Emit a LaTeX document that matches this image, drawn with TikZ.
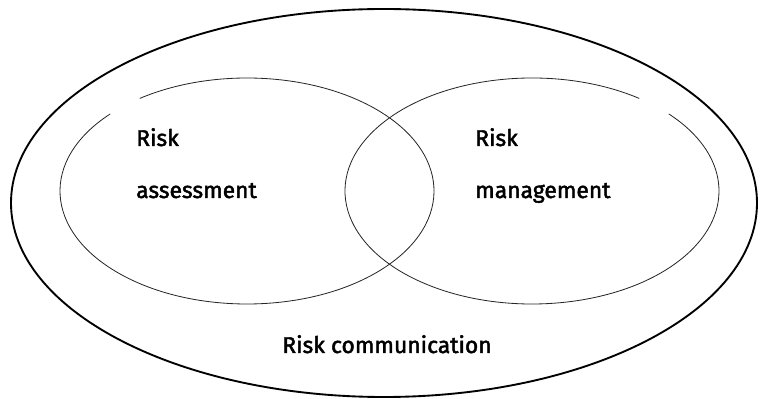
\documentclass[tikz,border=0pt]{standalone}
\usepackage{fontspec}
\setmainfont{Fira Sans}[FakeBold=2]
\usetikzlibrary{calc}

\begin{document}
\begin{tikzpicture}[
        x=0.03cm, y=0.03cm,
        outer/.style={draw=black, line width=1.6pt},
        inner/.style={draw=black!85, line width=0.7pt},
        lbl/.style={font=\fontsize{19.5}{22}\selectfont, inner sep=0pt, anchor=base west},
    ]
    \useasboundingbox (0,0) rectangle (761,399);

    % ===== Risk communication: outer ellipse =====
    \coordinate (O) at (384,196);
    \draw[outer] (O) ellipse [x radius=373, y radius=194];

    % ===== Risk assessment (left), open at the upper left =====
    \coordinate (A) at (247,208);
    \draw[inner] ($(A)+(137:187 and 113)$)
        arc [start angle=137, end angle=485, x radius=187, y radius=113];

    % ===== Risk management (right), open at the upper right =====
    \coordinate (M) at (532,208);
    \draw[inner] ($(M)+(55:187 and 113)$)
        arc [start angle=55, end angle=403, x radius=187, y radius=113];

    % ===== Labels =====
    \node[lbl] (A1) at (136,253) {Risk};
    \node[lbl] (A2) at (136,201) {assessment};
    \node[lbl] (M1) at (475,253) {Risk};
    \node[lbl] (M2) at (475,201) {management};
    \node[lbl, anchor=base] (C) at (387,46) {Risk communication};
\end{tikzpicture}
\end{document}
